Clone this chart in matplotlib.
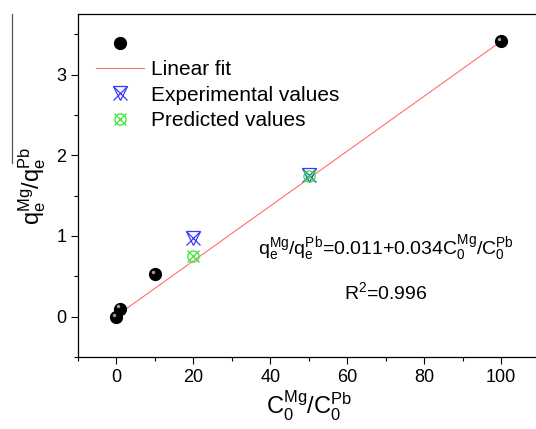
import numpy as np
import matplotlib
matplotlib.use("Agg")
import matplotlib.pyplot as plt
from matplotlib.lines import Line2D
from matplotlib.legend_handler import HandlerTuple
from matplotlib.transforms import offset_copy

plt.rcParams['font.family'] = ['Liberation Sans', 'DejaVu Sans']
plt.rcParams['mathtext.fontset'] = 'custom'
plt.rcParams['mathtext.rm'] = 'Liberation Sans'
plt.rcParams['mathtext.it'] = 'Liberation Sans'

# data
ratio_x = [0, 1, 10, 100]
ratio_y = [0.0, 0.10, 0.53, 3.41]
exp_x = [20, 50]
exp_y = [0.98, 1.76]
pred_x = [20, 50]
pred_y = [0.75, 1.74]
fit_a, fit_b = 0.011, 0.034

fig = plt.figure(figsize=(5.36, 4.29), dpi=100)
ax = fig.add_axes([78/536, 1-357/429, (539.5-78)/536, (357-14)/429])

fx = np.array([0, 100])
ax.plot(fx, fit_a + fit_b*fx, color='#ff7070', lw=0.8, zorder=2)

ax.plot(ratio_x, ratio_y, 'o', color='black', ms=8.5, zorder=3)
hl = offset_copy(ax.transData, fig=fig, x=-1.5, y=1.5, units='points')
ax.plot(ratio_x, ratio_y, 'o', color='#9a9a9a', ms=2.5, mec='none', transform=hl, zorder=4)

blue = '#3a3aff'
green = '#33e633'
ax.plot(exp_x, exp_y, 'x', color=blue, ms=10, mew=0.9, zorder=5)
ax.plot(exp_x, exp_y, 'v', mfc='none', mec=blue, ms=10, mew=0.9, zorder=5)
ax.plot(pred_x, pred_y, 'x', color=green, ms=9, mew=0.9, zorder=5)
ax.plot(pred_x, pred_y, 'o', mfc='none', mec=green, ms=8, mew=0.9, zorder=5)

ax.set_xlim(-10, 110)
ax.set_ylim(-0.5, 3.75)
ax.set_xticks([0, 20, 40, 60, 80, 100])
ax.set_xticks(np.arange(-10, 111, 10), minor=True)
ax.set_yticks([0, 1, 2, 3])
ax.set_yticks(np.arange(-0.5, 3.76, 0.5), minor=True)
ax.tick_params(which='major', direction='out', length=5, width=0.8, labelsize=13)
ax.tick_params(which='minor', direction='out', length=3, width=0.8)
ax.spines['right'].set_visible(False)
for s in ['left', 'bottom', 'top']:
    ax.spines[s].set_linewidth(0.9)

ax.set_xlabel(r'$\mathregular{C_0^{Mg}/C_0^{Pb}}$', fontsize=17, labelpad=2)
ax.set_ylabel(r'$\mathregular{q_e^{Mg}/q_e^{Pb}}$', fontsize=17, labelpad=6)

ball = Line2D([], [], marker='o', color='black', ms=8.5, ls='none')
fit_h = Line2D([], [], color='#ff7070', lw=0.8)
exp_h = (Line2D([], [], marker='x', color=blue, ms=10, mew=0.9, ls='none'),
         Line2D([], [], marker='v', mfc='none', mec=blue, ms=10, mew=0.9, ls='none'))
pred_h = (Line2D([], [], marker='x', color=green, ms=9, mew=0.9, ls='none'),
          Line2D([], [], marker='o', mfc='none', mec=green, ms=8, mew=0.9, ls='none'))
ax.legend([ball, fit_h, exp_h, pred_h], [' ', 'Linear fit', 'Experimental values', 'Predicted values'],
          handler_map={tuple: HandlerTuple(ndivide=1, pad=0)},
          loc='upper left', bbox_to_anchor=(0.0, 0.99), frameon=False, fontsize=15,
          handlelength=2.3, handletextpad=0.35, labelspacing=0.3, borderaxespad=0.3,
          borderpad=0.55)

ax.text(0.667, 0.318, r'$\mathregular{q_e^{Mg}/q_e^{Pb}}$=0.011+0.034$\mathregular{C_0^{Mg}/C_0^{Pb}}$',
        transform=ax.transAxes, fontsize=14, ha='center', va='center')
ax.text(70, 0.3, r'R$\mathregular{^2}$=0.996', fontsize=14, ha='center', va='center')

fig.add_artist(Line2D([12/536, 12/536], [1-14/429, 1-163/429], color='#555555', lw=0.9))

fig.savefig('out.png', dpi=100)
